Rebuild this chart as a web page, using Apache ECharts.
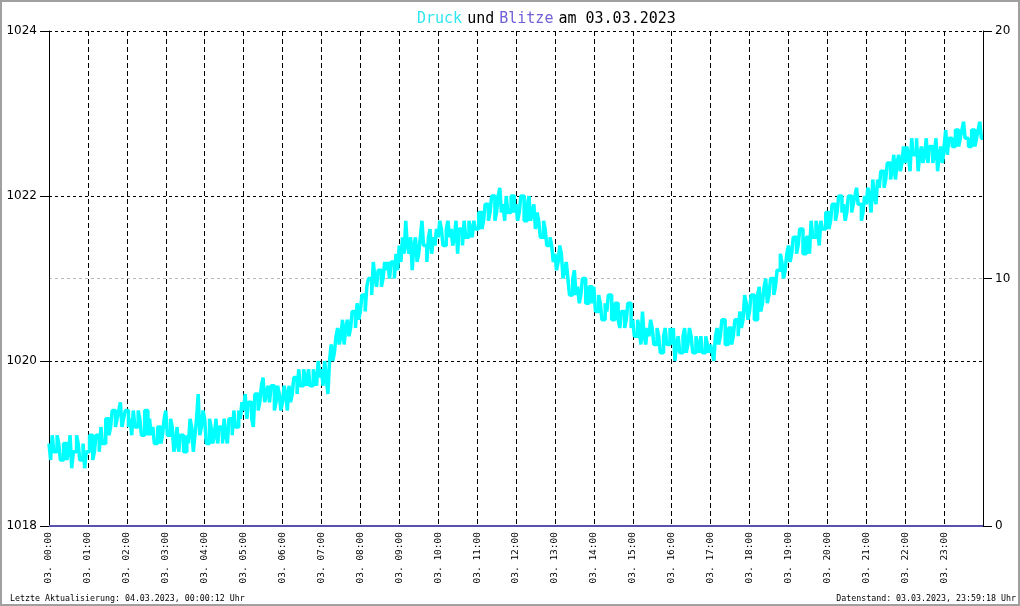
<!DOCTYPE html>
<html>
<head>
<meta charset="utf-8">
<script src="https://cdn.jsdelivr.net/npm/echarts@6/dist/echarts.min.js"></script>
<style>
html,body{margin:0;padding:0;background:#fff;}
#chart{width:1020px;height:606px;}
</style>
</head>
<body>
<div id="chart"></div>
<script>
// Hour tick labels
var hourLabels = ['03. 00:00','03. 01:00','03. 02:00','03. 03:00','03. 04:00','03. 05:00',
  '03. 06:00','03. 07:00','03. 08:00','03. 09:00','03. 10:00','03. 11:00',
  '03. 12:00','03. 13:00','03. 14:00','03. 15:00','03. 16:00','03. 17:00',
  '03. 18:00','03. 19:00','03. 20:00','03. 21:00','03. 22:00','03. 23:00'];

// Pressure (hPa), reading at every full 5 minutes from 00:00 to 24:00
var druck = [
  1019.0, 1019.1, 1018.9, 1019.0, 1018.8, 1019.0, 1018.9, 1018.7, 1018.9, 1019.0, 1018.8, 1018.7,
  1018.9, 1019.1, 1018.9, 1019.1, 1019.2, 1019.0, 1019.3, 1019.2, 1019.4, 1019.3, 1019.5, 1019.3,
  1019.4, 1019.3, 1019.4, 1019.2, 1019.3, 1019.1, 1019.4, 1019.3, 1019.2, 1019.0, 1019.2, 1019.1,
  1019.4, 1019.1, 1019.2, 1019.0, 1018.9, 1019.1, 1018.9, 1019.0, 1019.2, 1019.1, 1019.6, 1019.2,
  1019.3, 1019.0, 1019.2, 1019.1, 1019.0, 1019.2, 1019.3, 1019.0, 1019.3, 1019.4, 1019.2, 1019.3,
  1019.4, 1019.3, 1019.5, 1019.2, 1019.6, 1019.5, 1019.8, 1019.6, 1019.5, 1019.7, 1019.5, 1019.6,
  1019.5, 1019.6, 1019.7, 1019.6, 1019.8, 1019.9, 1019.7, 1019.8, 1019.9, 1019.7, 1019.8, 1020.0,
  1019.9, 1020.0, 1019.6, 1020.2, 1020.1, 1020.4, 1020.3, 1020.2, 1020.5, 1020.4, 1020.6, 1020.7,
  1020.6, 1020.8, 1020.9, 1021.0, 1021.2, 1020.9, 1021.1, 1021.0, 1021.1, 1021.0, 1021.2, 1021.3,
  1021.4, 1021.5, 1021.7, 1021.3, 1021.1, 1021.5, 1021.3, 1021.7, 1021.4, 1021.5, 1021.3, 1021.4,
  1021.5, 1021.6, 1021.4, 1021.7, 1021.6, 1021.5, 1021.3, 1021.6, 1021.7, 1021.5, 1021.6, 1021.7,
  1021.6, 1021.8, 1021.7, 1021.9, 1021.8, 1022.0, 1021.8, 1022.1, 1021.9, 1022.0, 1021.8, 1022.0,
  1021.9, 1021.8, 1022.0, 1021.7, 1022.0, 1021.8, 1021.6, 1021.7, 1021.5, 1021.6, 1021.4, 1021.4,
  1021.3, 1021.2, 1021.3, 1021.1, 1021.0, 1020.8, 1021.1, 1020.9, 1020.8, 1021.0, 1020.7, 1020.9,
  1020.9, 1020.6, 1020.7, 1020.5, 1020.6, 1020.8, 1020.5, 1020.7, 1020.4, 1020.6, 1020.5, 1020.7,
  1020.5, 1020.3, 1020.4, 1020.6, 1020.2, 1020.3, 1020.4, 1020.2, 1020.3, 1020.1, 1020.4, 1020.2,
  1020.2, 1020.0, 1020.3, 1020.1, 1020.4, 1020.2, 1020.3, 1020.1, 1020.2, 1020.3, 1020.1, 1020.2,
  1020.2, 1020.0, 1020.4, 1020.3, 1020.5, 1020.2, 1020.4, 1020.3, 1020.5, 1020.6, 1020.5, 1020.7,
  1020.6, 1020.8, 1020.5, 1020.9, 1020.7, 1021.0, 1020.8, 1021.0, 1020.9, 1021.1, 1021.2, 1021.1,
  1021.4, 1021.3, 1021.5, 1021.4, 1021.6, 1021.3, 1021.5, 1021.7, 1021.5, 1021.6, 1021.7, 1021.6,
  1021.8, 1021.7, 1021.9, 1021.8, 1022.0, 1021.9, 1021.8, 1022.0, 1021.9, 1022.1, 1021.9, 1021.8,
  1021.9, 1022.0, 1022.2, 1021.9, 1022.1, 1022.3, 1022.2, 1022.4, 1022.3, 1022.2, 1022.5, 1022.4,
  1022.4, 1022.5, 1022.7, 1022.5, 1022.3, 1022.6, 1022.5, 1022.4, 1022.6, 1022.5, 1022.3, 1022.6,
  1022.6, 1022.5, 1022.7, 1022.6, 1022.8, 1022.7, 1022.9, 1022.7, 1022.6, 1022.8, 1022.7, 1022.9,
  1022.7
];

// Pressure (hPa), intermediate reading 2.5 minutes after each of the above
var druckMid = [
  1018.8, 1018.9, 1019.1, 1018.8, 1019.0, 1018.8, 1019.1, 1018.9, 1019.1, 1018.8, 1019.0, 1018.9,
  1019.1, 1018.8, 1019.1, 1018.9, 1019.0, 1019.3, 1019.1, 1019.4, 1019.2, 1019.4, 1019.2, 1019.4,
  1019.2, 1019.1, 1019.2, 1019.4, 1019.1, 1019.4, 1019.1, 1019.1, 1019.0, 1019.2, 1019.0, 1019.3,
  1019.1, 1019.3, 1018.9, 1019.2, 1019.1, 1018.9, 1019.1, 1019.3, 1018.9, 1019.3, 1019.1, 1019.4,
  1019.0, 1019.3, 1019.0, 1019.3, 1019.2, 1019.0, 1019.1, 1019.3, 1019.1, 1019.2, 1019.4, 1019.5,
  1019.6, 1019.5, 1019.3, 1019.6, 1019.4, 1019.7, 1019.5, 1019.7, 1019.7, 1019.4, 1019.7, 1019.4,
  1019.7, 1019.4, 1019.5, 1019.8, 1019.6, 1019.7, 1019.9, 1019.7, 1019.7, 1019.9, 1019.7, 1019.8,
  1019.7, 1019.8, 1020.0, 1020.0, 1020.3, 1020.2, 1020.5, 1020.4, 1020.3, 1020.6, 1020.4, 1020.5,
  1020.8, 1020.6, 1021.0, 1020.8, 1021.0, 1021.1, 1020.9, 1021.2, 1021.2, 1021.2, 1021.0, 1021.1,
  1021.2, 1021.3, 1021.4, 1021.5, 1021.4, 1021.2, 1021.5, 1021.4, 1021.2, 1021.6, 1021.5, 1021.6,
  1021.7, 1021.4, 1021.6, 1021.5, 1021.4, 1021.7, 1021.6, 1021.4, 1021.5, 1021.7, 1021.5, 1021.6,
  1021.8, 1021.6, 1021.9, 1021.7, 1022.0, 1021.7, 1022.0, 1021.8, 1021.7, 1021.8, 1022.0, 1021.8,
  1021.7, 1022.0, 1021.7, 1021.9, 1021.7, 1021.9, 1021.8, 1021.5, 1021.7, 1021.4, 1021.5, 1021.2,
  1021.1, 1021.4, 1021.0, 1021.2, 1020.8, 1021.0, 1020.8, 1020.7, 1021.0, 1020.7, 1020.9, 1020.7,
  1020.6, 1020.8, 1020.5, 1020.7, 1020.8, 1020.5, 1020.7, 1020.5, 1020.6, 1020.4, 1020.7, 1020.4,
  1020.3, 1020.5, 1020.2, 1020.3, 1020.4, 1020.5, 1020.2, 1020.4, 1020.1, 1020.3, 1020.2, 1020.4,
  1020.4, 1020.2, 1020.1, 1020.3, 1020.1, 1020.4, 1020.1, 1020.3, 1020.1, 1020.1, 1020.3, 1020.1,
  1020.1, 1020.3, 1020.2, 1020.5, 1020.2, 1020.4, 1020.2, 1020.5, 1020.3, 1020.4, 1020.8, 1020.5,
  1020.8, 1020.5, 1020.8, 1020.6, 1020.9, 1020.7, 1021.0, 1020.8, 1021.1, 1021.3, 1021.0, 1021.3,
  1021.2, 1021.5, 1021.3, 1021.6, 1021.3, 1021.5, 1021.3, 1021.5, 1021.7, 1021.4, 1021.6, 1021.8,
  1021.6, 1021.9, 1021.7, 1022.0, 1021.8, 1021.7, 1022.0, 1021.8, 1022.0, 1021.9, 1021.7, 1022.0,
  1022.1, 1021.8, 1022.0, 1022.2, 1022.3, 1022.1, 1022.4, 1022.2, 1022.5, 1022.4, 1022.3, 1022.6,
  1022.6, 1022.3, 1022.5, 1022.7, 1022.5, 1022.4, 1022.7, 1022.6, 1022.4, 1022.7, 1022.5, 1022.4,
  1022.8, 1022.7, 1022.6, 1022.8, 1022.6, 1022.8, 1022.7, 1022.6, 1022.8, 1022.6, 1022.8, 1022.7
];

// Lightning count per hour (none recorded)
var blitze = [0,0,0,0,0,0,0,0,0,0,0,0,0,0,0,0,0,0,0,0,0,0,0,0,0];

var standText = 'Datenstand: 03.03.2023, 23:59:18 Uhr';
var updateText = 'Letzte Aktualisierung: 04.03.2023, 00:00:12 Uhr';

var druckData = [];
druck.forEach(function (v, i) {
  druckData.push([i * 5, v]);
  if (i < druckMid.length) druckData.push([i * 5 + 2.5, druckMid[i]]);
});
var blitzeData = blitze.map(function (v, i) { return [i * 60, v]; });

var mono = 'DejaVu Sans Mono';
var chart = echarts.init(document.getElementById('chart'));
chart.setOption({
  animation: false,
  backgroundColor: '#ffffff',
  title: {
    text: '{c|Druck} {k|und} {b|Blitze} {k|am 03.03.2023}',
    left: 412,
    top: 5,
    textStyle: {
      fontWeight: 'normal',
      rich: {
        c: { color: '#2ee6ef', fontFamily: mono, fontSize: 15, fontWeight: 'normal' },
        b: { color: '#7060d8', fontFamily: mono, fontSize: 15, fontWeight: 'normal' },
        k: { color: '#000000', fontFamily: mono, fontSize: 15, fontWeight: 'normal' }
      }
    }
  },
  graphic: [
    { type: 'rect', shape: { x: 1, y: 1, width: 1018, height: 604 },
      style: { fill: 'none', stroke: '#a0a0a0', lineWidth: 2 }, z: 100 },
    { type: 'text', left: 10, top: 595,
      style: { text: updateText, fontFamily: mono, fontSize: 8.3, fill: '#000' } },
    { type: 'text', right: 4, top: 595,
      style: { text: standText, fontFamily: mono, fontSize: 8.3, fill: '#000' } }
  ],
  grid: { left: 49, right: 37, top: 31, bottom: 80, containLabel: false },
  xAxis: {
    type: 'value', min: 0, max: 1440, interval: 60,
    axisLine: { show: true, lineStyle: { color: '#000', width: 1 } },
    axisTick: { show: false },
    axisLabel: {
      rotate: 90, margin: 6, fontFamily: mono, fontSize: 9.5, color: '#000',
      formatter: function (v) { var i = Math.round(v / 60); return i < hourLabels.length ? hourLabels[i] : ''; }
    },
    splitLine: { show: true, lineStyle: { color: '#000', width: 1, type: [5, 3] } }
  },
  yAxis: [
    {
      type: 'value', min: 1018, max: 1024, interval: 2, position: 'left',
      axisLine: { show: true, lineStyle: { color: '#000', width: 1 } },
      axisTick: { show: true, length: 9, lineStyle: { color: '#000' } },
      axisLabel: { margin: 12, fontFamily: 'DejaVu Sans', fontSize: 12, color: '#000',
        formatter: function (v) { return String(v); } },
      splitLine: { show: true, lineStyle: { color: '#000', width: 1, type: [3, 3] } }
    },
    {
      type: 'value', min: 0, max: 20, interval: 10, position: 'right',
      axisLine: { show: true, lineStyle: { color: '#000', width: 1 } },
      axisTick: { show: true, length: 9, lineStyle: { color: '#000' } },
      axisLabel: { margin: 12, fontFamily: 'DejaVu Sans', fontSize: 12, color: '#000',
        formatter: function (v) { return String(v); } },
      splitLine: { show: true, lineStyle: { color: ['rgba(0,0,0,0)', '#bbbbbb', 'rgba(0,0,0,0)'], width: 1, type: [3, 3] } }
    }
  ],
  series: [
    {
      name: 'Druck', type: 'line', yAxisIndex: 0, data: druckData,
      step: 'end', showSymbol: false, symbol: 'none',
      lineStyle: { color: '#00ffff', width: 3.5, cap: 'butt', join: 'bevel' },
      z: 5
    },
    {
      name: 'Blitze', type: 'line', yAxisIndex: 1, data: blitzeData,
      showSymbol: false, symbol: 'none', clip: false,
      lineStyle: { color: '#5a50b0', width: 2 },
      z: 6
    }
  ]
});
</script>
</body>
</html>
